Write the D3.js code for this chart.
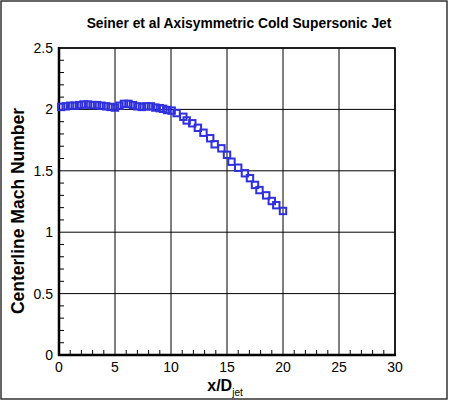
<!DOCTYPE html>
<html><head><meta charset="utf-8">
<script src="https://cdn.jsdelivr.net/npm/d3@7"></script>
<style>body{margin:0;background:#fff}svg{display:block}</style>
</head><body>
<svg id="c" width="450" height="401"></svg>
<script>
const titleText = "Seiner et al Axisymmetric Cold Supersonic Jet";
const xLabel = "x/D";
const xSub = "jet";
const yLabel = "Centerline Mach Number";
const xTicks = [0,5,10,15,20,25,30];
const yTicks = [0,0.5,1,1.5,2,2.5];
const yTickLabels = ["0","0.5","1","1.5","2","2.5"];
const xPos = [0.2,0.6,1.0,1.4,1.8,2.2,2.6,3.0,3.4,3.8,4.2,4.6,5.0,5.4,5.8,6.2,6.6,7.0,7.4,7.8,8.2,8.6,9.0,9.3,9.65,
  10.06,10.5,11.1,11.4,11.9,12.4,12.9,13.5,13.9,14.5,15.0,15.4,16.0,16.6,17.05,17.5,17.9,18.5,19.0,19.4,20.0];
const mach = [2.02,2.025,2.03,2.03,2.035,2.04,2.04,2.035,2.035,2.03,2.025,2.02,2.015,2.03,2.045,2.045,2.035,2.025,2.02,2.025,2.025,2.015,2.01,2.005,1.995,
  1.99,1.97,1.94,1.91,1.887,1.85,1.81,1.765,1.716,1.683,1.63,1.574,1.525,1.48,1.44,1.385,1.343,1.30,1.254,1.22,1.173];

const svg = d3.select("#c");
const L=59, R=395, T=48, B=355;
const x = d3.scaleLinear().domain([0,30]).range([L,R]);
const y = d3.scaleLinear().domain([0,2.5]).range([B,T]);

svg.append("rect").attr("x",1).attr("y",1).attr("width",446).attr("height",398)
  .attr("fill","none").attr("stroke","#000").attr("stroke-width",1.2);

const g = svg.append("g");
g.selectAll(".gx").data(xTicks).join("line")
  .attr("x1",d=>x(d)).attr("x2",d=>x(d)).attr("y1",T).attr("y2",B)
  .attr("stroke","#000").attr("stroke-width",1);
g.selectAll(".gy").data(yTicks).join("line")
  .attr("x1",L).attr("x2",R).attr("y1",d=>y(d)).attr("y2",d=>y(d))
  .attr("stroke","#000").attr("stroke-width",1);

const xMinor = d3.range(0,31,1).filter(v=>v%5!==0);
const yMinor = d3.range(0,26,1).map(v=>v/10).filter((v,i)=>i%5!==0);
g.selectAll(".mx").data(xMinor).join("line")
  .attr("x1",d=>x(d)).attr("x2",d=>x(d)).attr("y1",B).attr("y2",B-5)
  .attr("stroke","#000").attr("stroke-width",1);
g.selectAll(".my").data(yMinor).join("line")
  .attr("x1",L).attr("x2",L+5).attr("y1",d=>y(d)).attr("y2",d=>y(d))
  .attr("stroke","#000").attr("stroke-width",1);

svg.append("rect").attr("x",L).attr("y",T).attr("width",R-L).attr("height",B-T)
  .attr("fill","none").attr("stroke","#000").attr("stroke-width",1.5);
svg.append("line").attr("x1",L).attr("x2",L).attr("y1",T-1).attr("y2",B+1).attr("stroke","#000").attr("stroke-width",2.5);
svg.append("line").attr("x1",L-1).attr("x2",R+1).attr("y1",B).attr("y2",B).attr("stroke","#000").attr("stroke-width",2.5);

const font = "Liberation Sans, Arial, Helvetica, sans-serif";
svg.selectAll(".xl").data(xTicks).join("text")
  .attr("x",d=>x(d)).attr("y",B+17).attr("text-anchor","middle")
  .attr("font-family",font).attr("font-size",14).text(d=>d);
svg.selectAll(".yl").data(yTicks).join("text")
  .attr("x",L-6).attr("y",d=>y(d)+5).attr("text-anchor","end")
  .attr("font-family",font).attr("font-size",14).text((d,i)=>yTickLabels[i]);

svg.append("text").attr("x",239).attr("y",28).attr("text-anchor","middle")
  .attr("font-family",font).attr("font-weight","bold").attr("font-size",13.8).text(titleText);

const xt = svg.append("text").attr("x",225).attr("y",391).attr("text-anchor","middle")
  .attr("font-family",font).attr("font-weight","bold").attr("font-size",16);
xt.append("tspan").text(xLabel);
xt.append("tspan").attr("font-size",10).attr("font-weight","normal").attr("dy",5).text(xSub);
svg.append("text").attr("transform","translate(24,211) rotate(-90)").attr("text-anchor","middle")
  .attr("font-family",font).attr("font-weight","bold").attr("font-size",17.5).text(yLabel);

const pts = xPos.map((v,i)=>[v,mach[i]]);
svg.append("g").selectAll("rect").data(pts).join("rect")
  .attr("x",d=>x(d[0])-3.2).attr("y",d=>y(d[1])-3.2).attr("width",6.4).attr("height",6.4)
  .attr("fill","none").attr("stroke","#3030dd").attr("stroke-width",2);
</script>
</body></html>
